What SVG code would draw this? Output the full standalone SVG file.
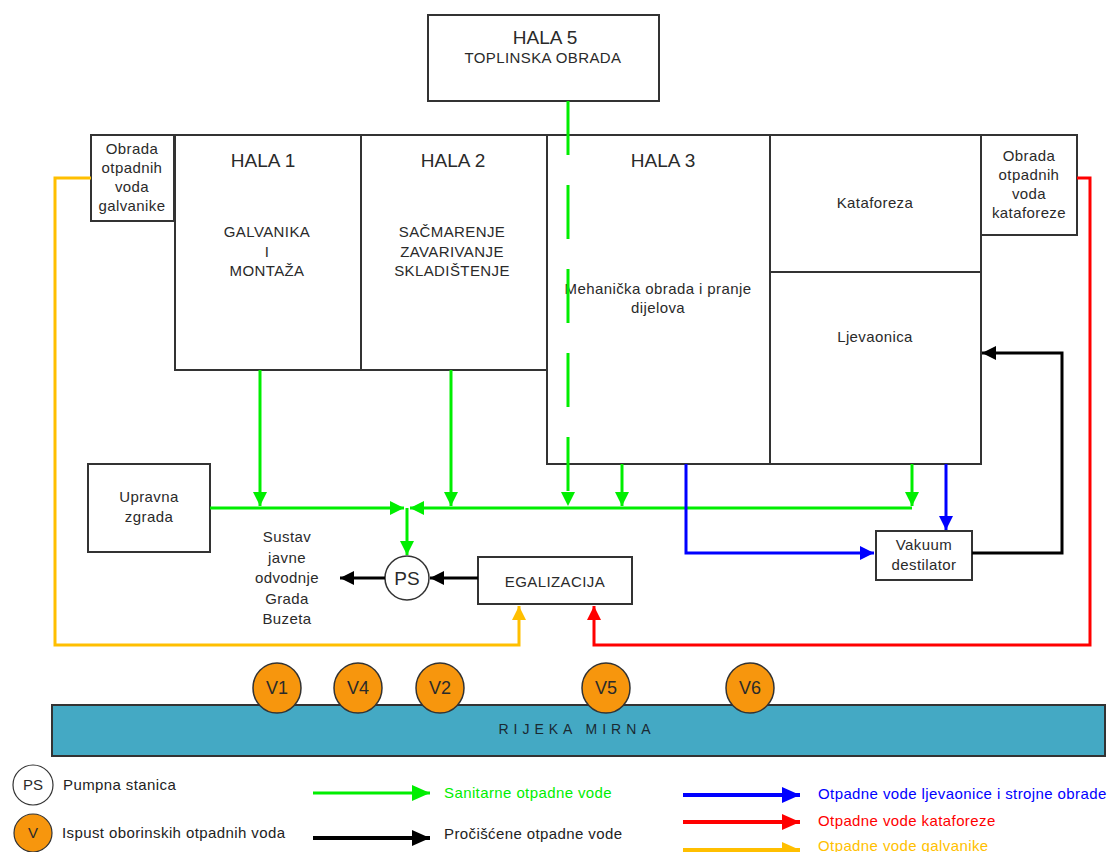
<svg xmlns="http://www.w3.org/2000/svg" width="1111" height="852" viewBox="0 0 1111 852">
<style>
.box{fill:#fff;stroke:#333;stroke-width:2}
.t{font-family:"Liberation Sans",Arial,sans-serif;fill:#2a2a2a;text-anchor:middle}
.h{font-size:19px}
.s{font-size:15px;letter-spacing:0.4px}
.g{fill:none;stroke:#00ee00;stroke-width:3}
.b{fill:none;stroke:#0000ff;stroke-width:3}
.r{fill:none;stroke:#ff0000;stroke-width:3}
.y{fill:none;stroke:#ffbf00;stroke-width:3}
.k{fill:none;stroke:#000;stroke-width:3}
.v{fill:#f7960d;stroke:#333;stroke-width:1.5}
.vt{font-size:18px}
.lg{font-family:"Liberation Sans",Arial,sans-serif;font-size:15px;letter-spacing:0.4px}
</style>
<defs>
<marker id="ag" markerUnits="userSpaceOnUse" markerWidth="14" markerHeight="14" refX="14" refY="7" orient="auto"><path d="M0,0 L14,7 L0,14 z" fill="#00ee00"/></marker>
<marker id="ab" markerUnits="userSpaceOnUse" markerWidth="14" markerHeight="14" refX="14" refY="7" orient="auto"><path d="M0,0 L14,7 L0,14 z" fill="#0000ff"/></marker>
<marker id="ar" markerUnits="userSpaceOnUse" markerWidth="14" markerHeight="14" refX="14" refY="7" orient="auto"><path d="M0,0 L14,7 L0,14 z" fill="#ff0000"/></marker>
<marker id="ay" markerUnits="userSpaceOnUse" markerWidth="14" markerHeight="14" refX="14" refY="7" orient="auto"><path d="M0,0 L14,7 L0,14 z" fill="#ffbf00"/></marker>
<marker id="ak" markerUnits="userSpaceOnUse" markerWidth="14" markerHeight="14" refX="14" refY="7" orient="auto"><path d="M0,0 L14,7 L0,14 z" fill="#000"/></marker>
<marker id="Lg" markerUnits="userSpaceOnUse" markerWidth="18" markerHeight="16" refX="18" refY="8" orient="auto"><path d="M0,0 L18,8 L0,16 z" fill="#00ee00"/></marker>
<marker id="Lb" markerUnits="userSpaceOnUse" markerWidth="18" markerHeight="16" refX="18" refY="8" orient="auto"><path d="M0,0 L18,8 L0,16 z" fill="#0000ff"/></marker>
<marker id="Lr" markerUnits="userSpaceOnUse" markerWidth="18" markerHeight="16" refX="18" refY="8" orient="auto"><path d="M0,0 L18,8 L0,16 z" fill="#ff0000"/></marker>
<marker id="Ly" markerUnits="userSpaceOnUse" markerWidth="18" markerHeight="16" refX="18" refY="8" orient="auto"><path d="M0,0 L18,8 L0,16 z" fill="#ffbf00"/></marker>
<marker id="Lk" markerUnits="userSpaceOnUse" markerWidth="18" markerHeight="16" refX="18" refY="8" orient="auto"><path d="M0,0 L18,8 L0,16 z" fill="#000"/></marker>
</defs>
<rect width="1111" height="852" fill="#fff"/>

<g id="hala5"><rect class="box" x="428" y="15" width="231" height="86"/>
<text class="t h" x="545" y="44">HALA 5</text><text class="t s" x="543" y="63">TOPLINSKA OBRADA</text></g>

<g id="obrada-galvanike"><rect class="box" x="91" y="135" width="83" height="86"/>
<text class="t s" x="132" y="154">Obrada</text><text class="t s" x="132" y="173">otpadnih</text><text class="t s" x="132" y="192">voda</text><text class="t s" x="132" y="211">galvanike</text></g>

<g id="hala1"><rect class="box" x="175" y="135" width="186" height="235"/>
<text class="t h" x="263" y="167">HALA 1</text>
<text class="t s" x="267" y="237">GALVANIKA</text><text class="t s" x="267" y="257">I</text><text class="t s" x="267" y="276">MONTAŽA</text></g>

<g id="hala2"><rect class="box" x="361" y="135" width="186" height="235"/>
<text class="t h" x="453" y="167">HALA 2</text>
<text class="t s" x="452" y="237">SAČMARENJE</text><text class="t s" x="452" y="257">ZAVARIVANJE</text><text class="t s" x="452" y="276">SKLADIŠTENJE</text></g>

<g id="hala3"><rect class="box" x="547" y="135" width="223" height="329"/>
<text class="t h" x="663" y="167">HALA 3</text>
<text class="t s" x="658" y="294">Mehanička obrada i pranje</text><text class="t s" x="658" y="313">dijelova</text></g>

<g id="kataforeza"><rect class="box" x="770" y="135" width="211" height="137"/>
<text class="t s" x="875" y="208">Kataforeza</text></g>

<g id="ljevaonica"><rect class="box" x="770" y="272" width="211" height="192"/>
<text class="t s" x="875" y="342">Ljevaonica</text></g>

<g id="obrada-kataforeze"><rect class="box" x="981" y="135" width="96" height="100"/>
<text class="t s" x="1029" y="161">Obrada</text><text class="t s" x="1029" y="180">otpadnih</text><text class="t s" x="1029" y="199">voda</text><text class="t s" x="1029" y="218">kataforeze</text></g>

<g id="upravna"><rect class="box" x="88" y="464" width="122" height="88"/>
<text class="t s" x="149" y="502">Upravna</text><text class="t s" x="149" y="522">zgrada</text></g>

<g id="sustav"><text class="t s" x="287" y="542">Sustav</text><text class="t s" x="287" y="563">javne</text><text class="t s" x="287" y="583">odvodnje</text><text class="t s" x="287" y="604">Grada</text><text class="t s" x="287" y="624">Buzeta</text></g>

<g id="ps"><circle cx="407" cy="578" r="22" fill="#fff" stroke="#333" stroke-width="1.5"/>
<text class="t" style="font-size:19px" x="407" y="585">PS</text></g>

<g id="egalizacija"><rect class="box" x="478" y="557" width="154" height="47"/>
<text class="t s" x="555" y="587">EGALIZACIJA</text></g>

<g id="vakuum"><rect class="box" x="876" y="531" width="96" height="49"/>
<text class="t s" x="924" y="550">Vakuum</text><text class="t s" x="924" y="570">destilator</text></g>

<g id="connectors">
<path class="g" d="M568,101 V506" stroke-dasharray="54 30" marker-end="url(#ag)"/>
<path class="g" d="M260,370 V506" marker-end="url(#ag)"/>
<path class="g" d="M451,370 V506" marker-end="url(#ag)"/>
<path class="g" d="M622,464 V506" marker-end="url(#ag)"/>
<path class="g" d="M912,464 V506" marker-end="url(#ag)"/>
<path class="g" d="M210,508 H404" marker-end="url(#ag)"/>
<path class="g" d="M912,508 H410" marker-end="url(#ag)"/>
<path class="g" d="M407,508 V555" marker-end="url(#ag)"/>
<path class="b" d="M686,464 V553 H874" marker-end="url(#ab)"/>
<path class="b" d="M946,464 V530" marker-end="url(#ab)"/>
<path class="k" d="M972,553 H1062 V353 H982" marker-end="url(#ak)"/>
<path class="k" d="M478,578 H430" marker-end="url(#ak)"/>
<path class="k" d="M385,578 H340" marker-end="url(#ak)"/>
<path class="y" d="M91,178 H55 V645 H519 V606" marker-end="url(#ay)"/>
<path class="r" d="M1077,178 H1090 V645 H594 V606" marker-end="url(#ar)"/>
</g>

<g id="rijeka"><rect x="52" y="705" width="1053" height="51" fill="#44a9c4" stroke="#333" stroke-width="2"/>
<text x="577" y="734" style="font-family:'Liberation Sans',Arial,sans-serif;font-size:14px;letter-spacing:5px;fill:#1a2a33;text-anchor:middle">RIJEKA MIRNA</text></g>

<g id="ispusti">
<ellipse class="v" cx="277" cy="688" rx="24" ry="25"/><text class="t vt" x="277" y="694">V1</text>
<ellipse class="v" cx="358" cy="688" rx="24" ry="25"/><text class="t vt" x="358" y="694">V4</text>
<ellipse class="v" cx="440" cy="688" rx="24" ry="25"/><text class="t vt" x="440" y="694">V2</text>
<ellipse class="v" cx="606" cy="688" rx="24" ry="25"/><text class="t vt" x="606" y="694">V5</text>
<ellipse class="v" cx="750" cy="688" rx="24" ry="25"/><text class="t vt" x="750" y="694">V6</text>
</g>

<g id="legend">
<circle cx="33" cy="785" r="20" fill="#fff" stroke="#333" stroke-width="1.2"/>
<text class="t" style="font-size:15px" x="33" y="790">PS</text>
<text class="lg" x="63" y="790" fill="#222">Pumpna stanica</text>
<circle cx="33" cy="833" r="19" fill="#f7960d" stroke="#333" stroke-width="1.2"/>
<text class="t" style="font-size:15px" x="33" y="838">V</text>
<text class="lg" x="62" y="838" fill="#222">Ispust oborinskih otpadnih voda</text>
<path d="M313,793 H430" stroke="#00ee00" stroke-width="3" marker-end="url(#Lg)"/>
<text class="lg" x="444" y="798" fill="#00ee00">Sanitarne otpadne vode</text>
<path d="M313,838 H430" stroke="#000" stroke-width="4" marker-end="url(#Lk)"/>
<text class="lg" x="444" y="839" fill="#222">Pročišćene otpadne vode</text>
<path d="M683,795 H800" stroke="#0000ff" stroke-width="4" marker-end="url(#Lb)"/>
<text class="lg" x="818" y="799" fill="#0000ff">Otpadne vode ljevaonice i strojne obrade</text>
<path d="M683,822 H800" stroke="#ff0000" stroke-width="4" marker-end="url(#Lr)"/>
<text class="lg" x="818" y="826" fill="#ff0000">Otpadne vode kataforeze</text>
<path d="M683,850 H800" stroke="#ffbf00" stroke-width="4" marker-end="url(#Ly)"/>
<text class="lg" x="818" y="851" fill="#ffbf00">Otpadne vode galvanike</text>
</g>
</svg>
